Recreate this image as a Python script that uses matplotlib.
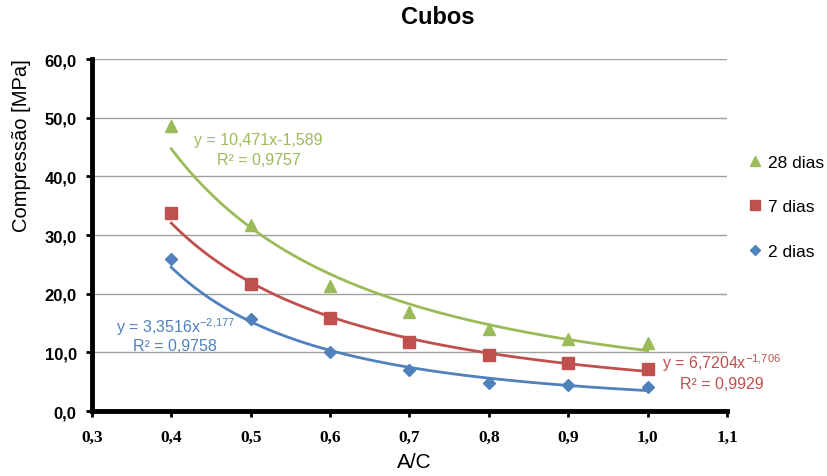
import numpy as np
import matplotlib.pyplot as plt
from matplotlib.lines import Line2D

plt.rcParams["font.family"] = ["Liberation Sans", "DejaVu Sans"]
plt.rcParams["mathtext.fontset"] = "custom"
plt.rcParams["mathtext.rm"] = "Liberation Sans"

ac = [0.4, 0.5, 0.6, 0.7, 0.8, 0.9, 1.0]
dias_28 = [48.6, 31.7, 21.3, 16.9, 14.0, 12.3, 11.6]
dias_7 = [33.7, 21.6, 15.8, 11.8, 9.5, 8.2, 7.2]
dias_2 = [25.9, 15.7, 10.1, 7.0, 4.8, 4.4, 4.1]

series = [
    ("28 dias", dias_28, "#9BBB59", "^", 8),
    ("7 dias", dias_7, "#C0504D", "s", 8),
    ("2 dias", dias_2, "#4F81BD", "D", 6),
]

fig = plt.figure(figsize=(8.28, 4.77), dpi=100)
ax = fig.add_axes([0.111, 0.136, 0.767, 0.738])

xs = np.linspace(0.4, 1.0, 100)
for name, vals, color, marker, ms in series:
    # power trendline fitted on log scale
    b, loga = np.polyfit(np.log(ac), np.log(vals), 1)
    ax.plot(xs, np.exp(loga) * xs ** b, color=color, lw=2, zorder=2)
    ax.plot(ac, vals, ls="none", marker=marker, ms=ms, color=color, zorder=3)

eq = dict(fontsize=11.5, ha="center")
ax.text(0.51, 45.6, "y = 10,471x-1,589", color="#9BBB59", **eq)
ax.text(0.51, 42.2, "R² = 0,9757", color="#9BBB59", **eq)
ax.text(0.405, 13.5, r"y = 3,3516x$^{\mathregular{-2{,}177}}$", color="#4F81BD", **eq)
ax.text(0.405, 10.4, "R² = 0,9758", color="#4F81BD", **eq)
ax.text(1.093, 7.3, r"y = 6,7204x$^{\mathregular{-1{,}706}}$", color="#C0504D",
        clip_on=False, **eq)
ax.text(1.093, 3.9, "R² = 0,9929", color="#C0504D", clip_on=False, **eq)

ax.set_xlim(0.3, 1.1)
ax.set_ylim(0, 60)
ax.set_xticks(np.arange(0.3, 1.11, 0.1))
ax.set_xticklabels([f"{v:.1f}".replace(".", ",") for v in np.arange(0.3, 1.11, 0.1)],
                   family="Liberation Serif", fontweight="bold", fontsize=12.5)
ax.set_yticks(range(0, 61, 10))
ax.set_yticklabels([f"{v:.1f}".replace(".", ",") for v in range(0, 61, 10)],
                   fontweight="bold", fontsize=12)
ax.yaxis.grid(True, color="#a0a0a0", lw=1)
ax.set_axisbelow(True)

for side in ["top", "right"]:
    ax.spines[side].set_visible(False)
for side in ["left", "bottom"]:
    ax.spines[side].set_linewidth(3.5)
ax.tick_params(width=2, length=4)
ax.tick_params(axis="x", pad=9)
ax.tick_params(axis="y", pad=7)

fig.text(0.5, 1 - 463 / 477, "A/C", fontsize=15, ha="center", va="center")
fig.text(22 / 828, 1 - 146 / 477, "Compressão [MPa]", fontsize=14.5, rotation=90,
         ha="center", va="center")
fig.text(438 / 828, 1 - 18 / 477, "Cubos", fontsize=17, fontweight="bold",
         ha="center", va="center")

handles = [Line2D([], [], ls="none", marker=m, ms=ms * 0.9, color=c, label=n)
           for n, v, c, m, ms in series]
fig.legend(handles=handles, loc="upper left", bbox_to_anchor=(0.882, 0.706),
           frameon=False, fontsize=12.5, labelspacing=1.68, handletextpad=0.3,
           handlelength=1)

plt.savefig("out.png")
